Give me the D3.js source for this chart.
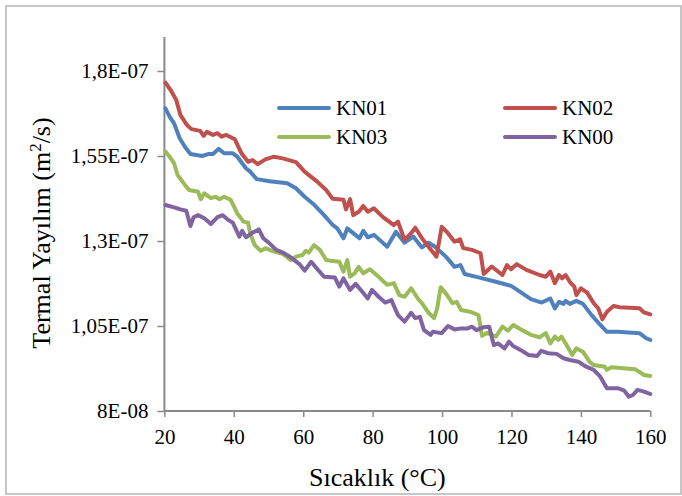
<!DOCTYPE html>
<html>
<head>
<meta charset="utf-8">
<script src="https://cdn.jsdelivr.net/npm/d3@7"></script>
<style>
  body { margin: 0; background: #fff; }
  svg { display: block; }
  text { font-family: "Liberation Serif", "Times New Roman", serif; }
</style>
</head>
<body>
<div id="chart"></div>
<script>
// values in units of 1E-07 m2/s, temperature in °C
const UNIT = 1e-7;
const FONT = '"Liberation Serif", "Times New Roman", serif';

const kn01 = [[20.3,1.690],[21.5,1.666],[22.8,1.646],[24.4,1.602],[25.9,1.577],[27.5,1.556],[30.9,1.550],[32.8,1.556],[34,1.556],[35.6,1.571],[37.2,1.558],[39.7,1.558],[41,1.548],[43.5,1.514],[44.7,1.504],[46.6,1.482],[50.3,1.476],[55.4,1.470],[57.9,1.455],[60.4,1.430],[62.9,1.409],[66,1.376],[68.5,1.347],[69.8,1.337],[71.6,1.308],[72.7,1.337],[74.4,1.323],[76.2,1.308],[77.3,1.330],[78.6,1.311],[80.4,1.318],[84.2,1.283],[86.7,1.327],[89.2,1.295],[91.7,1.313],[94.2,1.281],[96.1,1.295],[98,1.283],[101.1,1.254],[103.6,1.224],[105.3,1.229],[106.5,1.203],[110.5,1.193],[115.5,1.180],[119.9,1.168],[122.4,1.151],[125.6,1.129],[128.7,1.119],[131.2,1.131],[132.5,1.102],[133.7,1.121],[135,1.115],[135.6,1.124],[136.8,1.115],[138.7,1.124],[140.6,1.115],[143.1,1.082],[145.6,1.053],[147.5,1.033],[150.6,1.033],[156.9,1.029],[158.8,1.014],[160,1.009]];

const kn02 = [[20.3,1.766],[22.1,1.739],[23.4,1.715],[24.6,1.671],[26.5,1.641],[27.8,1.629],[30.3,1.624],[31.3,1.609],[32.2,1.621],[34,1.612],[35.3,1.617],[36.5,1.607],[37.8,1.612],[40.3,1.599],[42.2,1.558],[44.1,1.533],[45.4,1.538],[46.9,1.526],[49.1,1.540],[51.6,1.548],[54.1,1.543],[57.9,1.532],[60.4,1.504],[64.1,1.474],[66.6,1.450],[68.5,1.424],[71.6,1.421],[72.3,1.393],[73.5,1.423],[74.4,1.376],[76,1.386],[77.3,1.403],[78.6,1.386],[80.4,1.396],[82.9,1.371],[86.1,1.347],[87.3,1.357],[89.2,1.303],[91.1,1.323],[92.3,1.339],[94.2,1.308],[96.1,1.283],[98.4,1.254],[99.9,1.342],[101.7,1.323],[103.6,1.298],[105.2,1.305],[106.1,1.279],[108.6,1.274],[111.1,1.264],[112,1.203],[114.3,1.225],[117.4,1.200],[118.7,1.229],[119.9,1.217],[121.5,1.232],[124.3,1.215],[128.1,1.200],[129.9,1.195],[131.2,1.210],[132.5,1.176],[133.7,1.200],[134.6,1.190],[135.6,1.200],[136.8,1.180],[138.1,1.166],[138.7,1.141],[140,1.161],[141.8,1.148],[143.7,1.117],[145,1.102],[146.2,1.070],[147.5,1.092],[149.4,1.109],[151.2,1.105],[156.9,1.102],[158.2,1.090],[160,1.084]];

const kn03 = [[20.3,1.563],[21.5,1.548],[22.8,1.528],[23.8,1.494],[25.9,1.465],[27.1,1.450],[29.7,1.445],[30.5,1.423],[31.5,1.440],[33.4,1.426],[34.7,1.430],[35.9,1.423],[37.2,1.430],[39.1,1.421],[41,1.381],[42.8,1.357],[44.1,1.354],[44.7,1.323],[46,1.288],[47.8,1.271],[49.1,1.279],[51.6,1.269],[54.1,1.262],[56.4,1.244],[57.9,1.254],[59.8,1.259],[60.7,1.271],[61.6,1.266],[63.1,1.288],[64.8,1.274],[66.6,1.244],[67.9,1.242],[70.4,1.239],[71.6,1.210],[72.7,1.244],[73.5,1.195],[74.8,1.205],[76,1.224],[77.3,1.205],[79.2,1.217],[81.7,1.195],[84.2,1.171],[86.1,1.176],[87.7,1.141],[89.2,1.136],[91.1,1.161],[93,1.131],[94.2,1.117],[96.1,1.089],[97.7,1.073],[98.6,1.102],[99.6,1.164],[101.1,1.146],[103,1.117],[104.2,1.121],[105.5,1.097],[108,1.092],[110.5,1.082],[111.5,1.021],[113,1.030],[115.5,1.019],[117.4,1.048],[119,1.036],[120.5,1.053],[123,1.038],[125.6,1.024],[128.1,1.017],[129.9,1.029],[131.2,0.999],[132.5,1.019],[133.5,1.009],[134.4,1.019],[135.6,0.999],[137.5,0.965],[138.7,0.984],[140.6,0.974],[142.5,0.945],[143.7,0.935],[146.9,0.930],[147.5,0.921],[148.8,0.929],[155.6,0.923],[158.2,0.906],[160,0.903]];

const kn00 = [[20.3,1.406],[22.8,1.399],[24.6,1.393],[26.3,1.389],[27.5,1.344],[28.4,1.370],[29.7,1.376],[31.5,1.367],[33.4,1.350],[35.3,1.370],[36.8,1.376],[38.4,1.362],[39.7,1.354],[41.6,1.313],[42.4,1.330],[43.5,1.311],[45.3,1.324],[47.2,1.334],[48.5,1.308],[50.3,1.293],[52.2,1.274],[54.1,1.266],[56.4,1.252],[58.9,1.232],[60.4,1.213],[62.3,1.239],[63.5,1.224],[66,1.195],[69.1,1.193],[70.4,1.166],[71.6,1.190],[73.5,1.156],[75.1,1.174],[76.6,1.156],[78.6,1.131],[79.8,1.156],[81.7,1.136],[83.6,1.119],[85.4,1.126],[87.3,1.082],[89.2,1.063],[91.1,1.089],[92.3,1.073],[93.6,1.077],[94.8,1.038],[96.7,1.024],[97.3,1.033],[99.9,1.029],[101.7,1.050],[103.6,1.040],[105.5,1.043],[107.4,1.043],[108.6,1.048],[109.9,1.038],[111.8,1.046],[113.6,1.048],[114.9,0.994],[116.1,0.999],[118,0.984],[119.3,1.004],[120.5,0.991],[123,0.977],[124.9,0.965],[127.4,0.962],[128.6,0.977],[130.5,0.970],[133,0.968],[135,0.955],[136.8,0.950],[139.3,0.945],[141.2,0.932],[143.7,0.921],[145.6,0.901],[147.5,0.867],[150.6,0.867],[152.5,0.860],[153.8,0.842],[155,0.847],[156.3,0.862],[158.2,0.857],[160,0.850]];

const xTicks = [20, 40, 60, 80, 100, 120, 140, 160];
const yTicks = [0.8e-7, 1.05e-7, 1.3e-7, 1.55e-7, 1.8e-7];
const yTickLabels = ['8E-08', '1,05E-07', '1,3E-07', '1,55E-07', '1,8E-07'];

const series = [
  { name: 'KN01', data: kn01, color: '#4F81BD' },
  { name: 'KN02', data: kn02, color: '#C0504D' },
  { name: 'KN03', data: kn03, color: '#9BBB59' },
  { name: 'KN00', data: kn00, color: '#8064A2' }
];

const W = 682, H = 496;
const plot = { left: 164.4, right: 650.3, top: 37, bottom: 411 };
const axisColor = '#898989';

const svg = d3.select('#chart')
  .append('svg')
  .attr('width', W)
  .attr('height', H);

// outer frame
svg.append('rect')
  .attr('x', 6).attr('y', 6)
  .attr('width', 675).attr('height', 488)
  .attr('fill', 'none')
  .attr('stroke', '#b4b4b4')
  .attr('stroke-width', 1.5);

const x = d3.scaleLinear().domain([20, 160]).range([plot.left, plot.right]);
const y = d3.scaleLinear().domain([0.8e-7, 1.9e-7]).range([plot.bottom, plot.top]);

// y axis
const yAxis = svg.append('g')
  .attr('transform', `translate(${plot.left},0)`)
  .call(d3.axisLeft(y).tickValues(yTicks).tickSize(7).tickPadding(9)
    .tickFormat((d, i) => yTickLabels[i]));

// x axis
const xAxis = svg.append('g')
  .attr('transform', `translate(0,${plot.bottom})`)
  .call(d3.axisBottom(x).tickValues(xTicks).tickSize(6).tickPadding(12)
    .tickFormat(d3.format('d')));

[yAxis, xAxis].forEach(g => {
  g.attr('font-family', FONT);
  g.select('.domain').attr('stroke', axisColor).attr('stroke-width', 2);
  g.selectAll('.tick line').attr('stroke', axisColor).attr('stroke-width', 1.5);
  g.selectAll('.tick text')
    .attr('fill', '#000')
    .style('font-family', FONT)
    .style('font-size', '21px');
});
// no outer ticks on the domain lines
yAxis.select('.domain').attr('d', `M0,${plot.top}V${plot.bottom}`);
xAxis.select('.domain').attr('d', `M${plot.left},0H${plot.right}`);

const line = d3.line()
  .x(d => x(d[0]))
  .y(d => y(d[1] * UNIT));

series.forEach(s => {
  svg.append('path')
    .datum(s.data)
    .attr('fill', 'none')
    .attr('stroke', s.color)
    .attr('stroke-width', 4)
    .attr('stroke-linejoin', 'round')
    .attr('stroke-linecap', 'round')
    .attr('d', line);
});

// legend, 2 columns
const legendPos = [
  { x: 279, y: 108 }, { x: 505, y: 108 },
  { x: 279, y: 137 }, { x: 505, y: 137 }
];
series.forEach((s, i) => {
  const p = legendPos[i];
  svg.append('line')
    .attr('x1', p.x).attr('x2', p.x + 50)
    .attr('y1', p.y).attr('y2', p.y)
    .attr('stroke', s.color)
    .attr('stroke-width', 4)
    .attr('stroke-linecap', 'round');
  svg.append('text')
    .attr('x', p.x + 57)
    .attr('y', p.y)
    .attr('dy', '0.35em')
    .style('font-family', FONT)
    .style('font-size', '21px')
    .text(s.name);
});

// axis titles
svg.append('text')
  .attr('x', (plot.left + plot.right) / 2 - 30)
  .attr('y', 486)
  .attr('text-anchor', 'middle')
  .style('font-family', FONT)
  .style('font-size', '26px')
  .text('Sıcaklık (°C)');

const yTitle = svg.append('text')
  .attr('transform', 'translate(50,233) rotate(-90)')
  .attr('text-anchor', 'middle')
  .style('font-family', FONT)
  .style('font-size', '26px');
yTitle.append('tspan').text('Termal Yayılım (m');
yTitle.append('tspan').attr('dy', -9).style('font-size', '17px').text('2');
yTitle.append('tspan').attr('dy', 9).text('/s)');
</script>
</body>
</html>
